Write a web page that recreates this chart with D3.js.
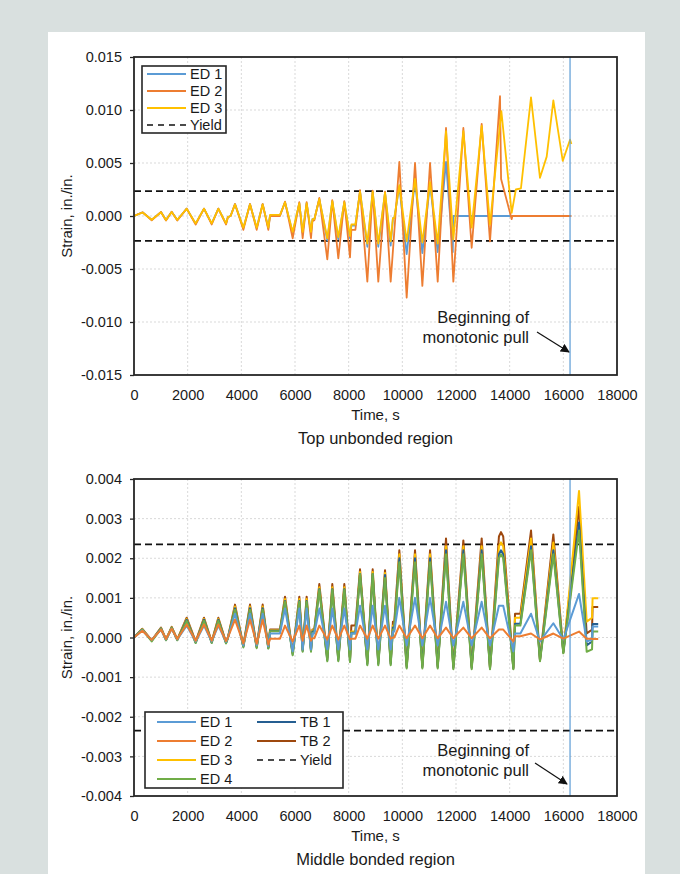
<!DOCTYPE html>
<html><head><meta charset="utf-8">
<script src="https://cdn.jsdelivr.net/npm/d3@7"></script>
<style>body{margin:0;background:#d9e0df}svg{display:block}text{font-family:"Liberation Sans",Arial,sans-serif;fill:#1a1a1a}</style>
</head><body>
<script>
// ---------- DATA ----------
const xTicks = [0,2000,4000,6000,8000,10000,12000,14000,16000,18000];
const topYTicks = [-0.015,-0.01,-0.005,0,0.005,0.01,0.015];
const botYTicks = [-0.004,-0.003,-0.002,-0.001,0,0.001,0.002,0.003,0.004];
const yieldStrain = 0.00235;
const pullTime = 16250;

// Top unbonded region
const topED1T = [0,320,660,1006,1193,1404,1614,1963,2298,2609,2895,3143,3429,3500,3600,3764,4075,4323,4572,4795,5006,5070,5440,
 5628,5913,6161,6285,6434,6596,6650,6720,6906,7204,7390,7614,7838,8050,8100,8250,8423,8696,8895,9104,9355,9566,9650,9700,9888,10162,10473,10746,11033,11318,11628,11880,11900,14075];
const topED1 = [0,.00034,-.00036,.00037,-.00038,.00039,-.00038,.00069,-.00072,.00069,-.00072,.00069,-.00072,-.0001,0,.00112,-.00113,.00112,-.00114,.00112,-.00114,.00005,.00005,
 .0013,-.0016,.0012,-.0016,.0012,-.0016,-.0003,-.0003,.0016,-.0023,.0014,-.0022,.0013,-.0021,-.0009,-.0009,.0023,-.0029,.0023,-.0029,.0022,-.0028,-.0002,-.0002,.0028,-.0036,.0033,-.0035,.003,-.0034,.0051,-.0034,0,0];
const topED2T = [0,320,660,1006,1193,1404,1614,1963,2298,2609,2895,3143,3429,3500,3600,3764,4075,4323,4572,4795,5006,5070,5440,
 5628,5913,6161,6285,6434,6596,6650,6720,6906,7204,7390,7614,7838,8050,8100,8250,8423,8696,8895,9104,9355,9566,9888,10162,10473,10746,11033,11318,11628,11901,12274,12584,12957,13267,13640,13680,14075,14100,16300];
const topED2 = [0,.00035,-.0004,.00038,-.00042,.0004,-.00042,.0007,-.0008,.0007,-.0008,.0007,-.0008,-.0001,0,.00113,-.0013,.00113,-.0013,.00113,-.0013,0,0,
 .00135,-.0021,.0013,-.0021,.0013,-.0021,-.0005,-.0004,.0017,-.0041,.0015,-.004,.0014,-.0039,-.0013,-.0013,.00245,-.0062,.0024,-.0062,.0023,-.0062,.0051,-.0077,.005,-.0066,.005,-.0062,.0083,-.0062,.0083,-.003,.0087,-.0024,.0113,.0035,-.0003,0,0];
const topED3T = [0,320,660,1006,1193,1404,1614,1963,2298,2609,2895,3143,3429,3500,3600,3764,4075,4323,4572,4795,5006,5070,5440,
 5628,5913,6161,6285,6434,6596,6650,6720,6906,7204,7390,7614,7838,8050,8100,8250,8423,8696,8895,9104,9355,9566,9650,9700,9888,10162,10473,10746,11033,11318,11628,11901,12274,12584,12957,13267,13690,14075,14230,14420,14795,15130,15380,15628,15978,16250,16300];
const topED3 = [0,.00033,-.00035,.00036,-.00037,.00038,-.00037,.00068,-.0007,.00068,-.0007,.00068,-.0007,-.0001,0,.0011,-.0011,.0011,-.0011,.0011,-.0011,.0001,.0001,
 .0013,-.0015,.0012,-.0015,.0012,-.0015,-.0003,-.0003,.0016,-.0021,.0014,-.002,.0013,-.0019,-.0008,-.0008,.0023,-.0026,.0023,-.0026,.0022,-.0024,-.0002,-.0002,.0029,-.0024,.0035,-.0025,.0032,-.0026,.008,-.0022,.008,-.0011,.0085,-.0008,.0099,.0003,.0025,.0026,.0112,.0036,.0056,.0109,.0052,.0072,.0068];

// Middle bonded region (shared time points)
const botT = [0,310,660,1006,1193,1404,1614,1963,2298,2609,2895,3143,3429,3500,3764,4075,4323,4572,4795,5006,5070,5440,
 5628,5913,6161,6285,6434,6596,6650,6720,6906,7204,7390,7614,7838,8050,8100,8250,8423,8696,8895,9104,9355,9566,9650,9700,
 9888,10162,10473,10746,11033,11318,11628,11901,12274,12584,12957,13267,13600,13677,13760,14137,14200,14400,14796,15130,15628,16000,16585,16870,17070,17090,17300];
const botED1 = [0,.00018,-.00006,.0002,-.00005,.00022,-.00005,.0003,-.0001,.0003,-.0001,.0003,-.00011,0,.0006,-.0002,.0006,-.0002,.0006,-.00022,.0001,.0001,
 .00073,-.00035,.00073,-.0003,.00073,-.0003,.0001,.0001,.00073,-.0003,.00073,-.0003,.00073,-.0003,.0001,.0001,.0008,-.0003,.0008,-.0003,.0008,-.0003,.00015,.00015,
 .001,-.0002,.001,-.0002,.001,-.0002,.0009,-.0002,.0009,-.0002,.0009,-.0002,.0008,.0008,.0008,-.00035,.0001,.0001,.0006,-.0001,.00036,-.00005,.0011,-.0001,-.00005,.00028,.00028];
const botED2 = [0,.00017,-.00006,.0002,-.00004,.00022,-.00004,.00033,-.00008,.00033,-.00008,.00033,-.00009,0,.00045,-.00015,.00045,-.00016,.00045,-.00018,-.00003,-.00003,
 .0003,-.0001,.0003,-.00008,.0003,-.00008,-.00002,-.00002,.0003,-.00005,.0003,-.00005,.0003,-.00005,-.00003,-.00003,.0003,-.00003,.0003,-.00003,.0003,-.00003,0,0,
 .0003,-.00002,.0003,-.00002,.0003,-.00002,.00025,-.00002,.00025,-.00002,.00025,-.00002,.0002,.0002,.0002,-.0001,.00003,.00003,.0001,-.00005,.0001,-.00003,.00015,-.00003,-.00003,-.00004,-.00004];
const botED3 = [0,.00021,-.00007,.00024,-.00005,.00026,-.00005,.00047,-.00012,.00047,-.00012,.00047,-.00013,0,.00078,-.00022,.00078,-.00024,.00078,-.00026,.00018,.00018,
 .00097,-.0004,.00097,-.00032,.00097,-.00032,.00018,.00018,.00127,-.00055,.00127,-.00055,.00127,-.00056,.00015,.00015,.00165,-.00065,.00165,-.00065,.00163,-.00065,.0003,.0003,
 .0021,-.00074,.0021,-.00074,.0021,-.00074,.0023,-.00076,.0023,-.00076,.0023,-.00078,.0023,.0024,.0023,-.00078,.0005,.0005,.0025,-.00058,.0024,-.00038,.0037,.0004,.0005,.00099,.00099];
const botED4 = [0,.0002,-.0001,.00022,-.00007,.00024,-.00007,.00042,-.00014,.00042,-.00014,.00042,-.00015,-.00002,.0007,-.00025,.0007,-.00027,.0007,-.00028,.00016,.00016,
 .0009,-.00045,.0009,-.00036,.0009,-.00036,.00012,.00012,.0012,-.0006,.0012,-.0006,.0012,-.00062,.0001,.0001,.0016,-.0007,.0016,-.0007,.0015,-.0007,.0002,.0002,
 .0019,-.00078,.0019,-.00078,.0019,-.00078,.0021,-.0008,.0021,-.0008,.0021,-.0008,.002,.0021,.002,-.0008,.0003,.0003,.0022,-.0006,.0021,-.0004,.0027,-.00036,-.0003,.00015,.00015];
const botTB1 = [0,.0002,-.00008,.00023,-.00006,.00025,-.00006,.00045,-.00013,.00045,-.00013,.00045,-.00014,-.00001,.00074,-.00023,.00074,-.00025,.00074,-.00027,.00017,.00017,
 .00092,-.00042,.00092,-.00034,.00092,-.00034,.00015,.00015,.00122,-.00057,.00122,-.00057,.00122,-.00058,.00012,.00012,.0016,-.00067,.0016,-.00067,.00158,-.00067,.00025,.00025,
 .002,-.00075,.002,-.00075,.002,-.00075,.0022,-.00077,.0022,-.00077,.0022,-.00078,.0021,.0022,.0021,-.00078,.00035,.00035,.0023,-.00058,.0022,-.00038,.0029,-.0002,-.0001,.00034,.00034];
const botTB2 = [0,.00022,-.00007,.00025,-.00005,.00027,-.00005,.0005,-.0001,.0005,-.0001,.0005,-.00012,0,.00083,-.0002,.00083,-.00022,.00083,-.00025,.0002,.0002,
 .00103,-.00038,.00103,-.0003,.00103,-.0003,.0002,.0002,.00135,-.0005,.00135,-.0005,.00135,-.00052,.0003,.0003,.00172,-.0006,.00172,-.0006,.0017,-.0006,.0004,.0004,
 .0022,-.0007,.0022,-.0007,.0022,-.0007,.0025,-.00072,.00245,-.00072,.0025,-.00075,.00255,.00266,.00255,-.00075,.0006,.0006,.0027,-.00055,.0026,-.00035,.0033,.0001,.0002,.00077,.00077];

// ---------- DRAW ----------
const W = 680, H = 874;
const svg = d3.select("body").append("svg").attr("width", W).attr("height", H);
svg.append("rect").attr("width", W).attr("height", H).attr("fill", "#d9e0df");
svg.append("rect").attr("x", 48).attr("y", 32).attr("width", 597).attr("height", 850).attr("fill", "#fff");

const defs = svg.append("defs");
defs.append("marker").attr("id", "arr").attr("viewBox", "0 0 10 10").attr("refX", 9).attr("refY", 5)
  .attr("markerWidth", 9).attr("markerHeight", 9).attr("markerUnits", "userSpaceOnUse").attr("orient", "auto")
  .append("path").attr("d", "M0,0L10,5L0,10Z").attr("fill", "#111");

const C = {ED1:"#5b9bd5", ED2:"#ed7d31", ED3:"#ffc000", ED4:"#70ad47", TB1:"#255e91", TB2:"#9e480e"};
const font = "Liberation Sans, Arial, sans-serif";

function panel(cfg) {
  const x = d3.scaleLinear().domain([0, 18000]).range([134, 617]);
  const y = d3.scaleLinear().domain(cfg.yDomain).range([cfg.bottom, cfg.top]);
  const g = svg.append("g");
  const cid = "clip" + cfg.id;
  defs.append("clipPath").attr("id", cid).append("rect")
    .attr("x", 134).attr("y", cfg.top).attr("width", 483).attr("height", cfg.bottom - cfg.top);

  // grid
  g.selectAll(".gx").data(xTicks.slice(1, -1)).join("line")
    .attr("x1", d => x(d)).attr("x2", d => x(d)).attr("y1", cfg.top).attr("y2", cfg.bottom)
    .attr("stroke", "#d9d9d9").attr("stroke-dasharray", "2,2");
  g.selectAll(".gy").data(cfg.yTicks.slice(1, -1)).join("line")
    .attr("y1", d => y(d)).attr("y2", d => y(d)).attr("x1", 134).attr("x2", 617)
    .attr("stroke", "#d9d9d9").attr("stroke-dasharray", "2,2");

  // yield lines
  g.selectAll(".yl").data([yieldStrain, -yieldStrain]).join("line")
    .attr("x1", 134).attr("x2", 617).attr("y1", d => y(d)).attr("y2", d => y(d))
    .attr("stroke", "#111").attr("stroke-width", 1.8).attr("stroke-dasharray", "7,4");

  // series
  const line = d3.line().x(d => x(d[0])).y(d => y(d[1]));
  const sg = g.append("g").attr("clip-path", `url(#${cid})`);
  cfg.series.forEach(s => {
    sg.append("path").attr("d", line(d3.zip(s.t, s.v))).attr("fill", "none")
      .attr("stroke", C[s.key]).attr("stroke-width", cfg.lw).attr("stroke-linejoin", "round");
  });

  // pull line
  g.append("line").attr("x1", x(pullTime)).attr("x2", x(pullTime)).attr("y1", cfg.top).attr("y2", cfg.bottom)
    .attr("stroke", C.ED1).attr("stroke-width", 1.2);

  // frame
  g.append("rect").attr("x", 134).attr("y", cfg.top).attr("width", 483).attr("height", cfg.bottom - cfg.top)
    .attr("fill", "none").attr("stroke", "#262626").attr("stroke-width", 1.8);

  // axes
  const ay = g.append("g").attr("transform", "translate(134,0)")
    .call(d3.axisLeft(y).tickValues(cfg.yTicks).tickSize(4).tickPadding(8).tickFormat(d => d.toFixed(3)));
  ay.select(".domain").remove();
  ay.selectAll("line").attr("stroke", "#262626").attr("stroke-width", 1.3);
  ay.selectAll("text").attr("font-family", font).attr("font-size", 14.5).attr("fill", "#1a1a1a");

  const ax = g.append("g").attr("transform", `translate(0,${cfg.bottom})`)
    .call(d3.axisBottom(x).tickValues(xTicks).tickSize(0).tickPadding(14.5).tickFormat(d3.format("d")));
  ax.select(".domain").remove();
  ax.selectAll("text").attr("font-family", font).attr("font-size", 14.5).attr("fill", "#1a1a1a");

  g.append("text").attr("x", 375.5).attr("y", cfg.bottom + 45).attr("text-anchor", "middle")
    .attr("font-size", 15).text("Time, s");
  g.append("text").attr("x", 375.5).attr("y", cfg.bottom + 69).attr("text-anchor", "middle")
    .attr("font-size", 16.5).text(cfg.title);
  g.append("text").attr("transform", `translate(72,${(cfg.top + cfg.bottom) / 2}) rotate(-90)`)
    .attr("text-anchor", "middle").attr("font-size", 15).text("Strain, in./in.");

  // annotation
  g.append("text").attr("x", 529).attr("y", cfg.ann.y).attr("text-anchor", "end").attr("font-size", 16.5).text("Beginning of");
  g.append("text").attr("x", 529).attr("y", cfg.ann.y + 20).attr("text-anchor", "end").attr("font-size", 16.5).text("monotonic pull");
  g.append("line").attr("x1", cfg.ann.x1).attr("y1", cfg.ann.y1).attr("x2", cfg.ann.x2).attr("y2", cfg.ann.y2)
    .attr("stroke", "#111").attr("stroke-width", 1.2).attr("marker-end", "url(#arr)");

  // legend
  const L = cfg.legend;
  const lg = g.append("g");
  lg.append("rect").attr("x", L.x).attr("y", L.y).attr("width", L.w).attr("height", L.h)
    .attr("fill", "#fff").attr("stroke", "#262626").attr("stroke-width", 1.6);
  L.items.forEach(it => {
    const dash = it.key === "Yield";
    lg.append("line").attr("x1", it.lx).attr("x2", it.lx + 39).attr("y1", it.y).attr("y2", it.y)
      .attr("stroke", dash ? "#111" : C[it.key]).attr("stroke-width", dash ? 1.5 : 2)
      .attr("stroke-dasharray", dash ? "6,5" : null);
    lg.append("text").attr("x", it.lx + 43).attr("y", it.y).attr("dy", "0.35em")
      .attr("font-size", 14.5).text(it.label);
  });
}

panel({
  id: "top", top: 57, bottom: 375, yDomain: [-0.015, 0.015], yTicks: topYTicks, lw: 1.8,
  title: "Top unbonded region",
  series: [{key:"ED1", t: topED1T, v: topED1}, {key:"ED2", t: topED2T, v: topED2}, {key:"ED3", t: topED3T, v: topED3}],
  ann: {y: 323, x1: 537, y1: 332, x2: 569, y2: 352},
  legend: {x: 142, y: 66, w: 84, h: 67, items: [
    {key:"ED1", label:"ED 1", lx:147, y:74}, {key:"ED2", label:"ED 2", lx:147, y:91},
    {key:"ED3", label:"ED 3", lx:147, y:108}, {key:"Yield", label:"Yield", lx:147, y:125}]}
});

panel({
  id: "bot", top: 479, bottom: 796, yDomain: [-0.004, 0.004], yTicks: botYTicks, lw: 2,
  title: "Middle bonded region",
  series: [{key:"TB2", t: botT, v: botTB2}, {key:"ED3", t: botT, v: botED3}, {key:"TB1", t: botT, v: botTB1},
           {key:"ED4", t: botT, v: botED4}, {key:"ED1", t: botT, v: botED1}, {key:"ED2", t: botT, v: botED2}],
  ann: {y: 756, x1: 535, y1: 763, x2: 567, y2: 784},
  legend: {x: 145, y: 712, w: 198, h: 76, items: [
    {key:"ED1", label:"ED 1", lx:157, y:722}, {key:"ED2", label:"ED 2", lx:157, y:741},
    {key:"ED3", label:"ED 3", lx:157, y:760}, {key:"ED4", label:"ED 4", lx:157, y:779},
    {key:"TB1", label:"TB 1", lx:257, y:722}, {key:"TB2", label:"TB 2", lx:257, y:741},
    {key:"Yield", label:"Yield", lx:257, y:760}]}
});
</script>
</body></html>
